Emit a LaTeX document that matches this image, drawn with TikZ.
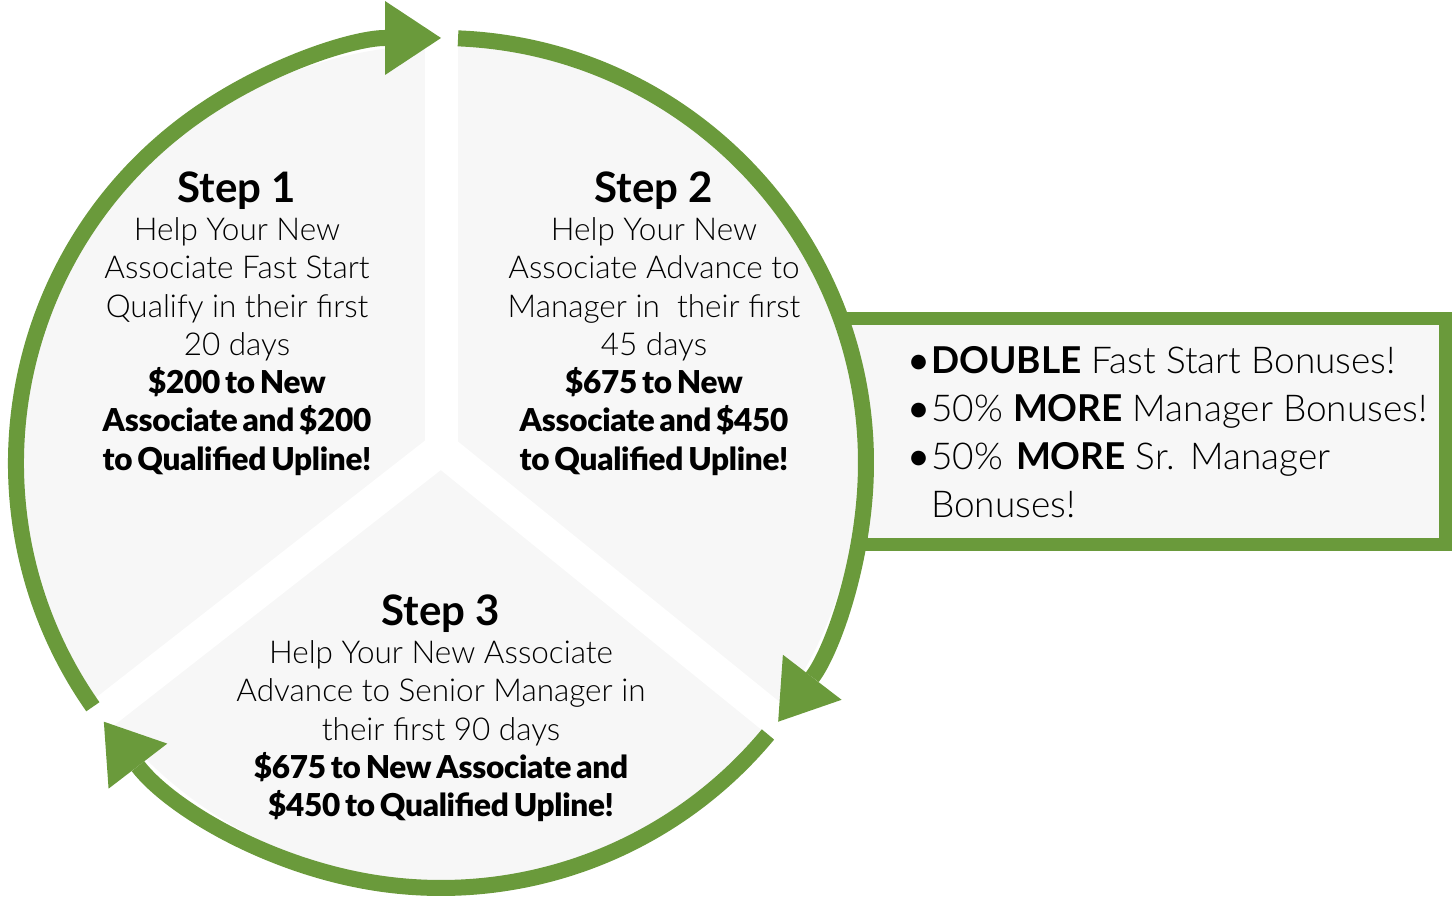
\documentclass[tikz,border=0pt]{standalone}
\usepackage{fontspec}
\IfFontExistsTF{Lato Light}{\setmainfont{Lato Light}[BoldFont={Lato Bold}]}{\setmainfont{Lato}}
\IfFontExistsTF{Lato Black}{\newfontface\heavyface{Lato Black}[LetterSpace=-1, WordSpace=0.7]}{\newfontface\heavyface{Lato}[FakeBold=2, LetterSpace=-1, WordSpace=0.7]}
\usepackage{tikz}
\usetikzlibrary{arrows.meta}
\definecolor{ringgreen}{RGB}{106,154,59}
\definecolor{sectorgray}{RGB}{247,247,247}
\tikzset{
    ring/.style={draw=ringgreen, line width=16pt, -{Triangle[length=56pt, width=74pt, line width=0pt]}},
    gap/.style={draw=white, line width=33pt},
    steptext/.style={inner sep=0pt, align=center, anchor=north, font=\fontsize{31.5}{38.3}\selectfont},
    bonusframe/.style={draw=ringgreen, line width=13pt, fill=sectorgray},
    bonustext/.style={inner sep=0pt, align=left, anchor=north west, font=\fontsize{37}{48}\selectfont}
}
\newcommand{\stephead}[1]{\rule{0pt}{40pt}{\fontsize{42}{38.3}\selectfont\bfseries #1}}
\newcommand{\payout}[1]{{\heavyface #1}}
\newcommand{\bonusitem}{\makebox[21pt][l]{\hspace*{-6pt}\raisebox{-4pt}{\scalebox{1.35}{\textbullet}}}}
\frenchspacing

\begin{document}
\begin{tikzpicture}[x=1pt, y=1pt]
    \useasboundingbox (0,0) rectangle (1453,899);
    \coordinate (c) at (441,436);
    \coordinate (g) at (441,450);

    % Bonus box (behind the circle)
    \draw[bonusframe] (700,354) rectangle (1445.5,580.5);

    % Sectors
    \fill[sectorgray] (c) circle[radius=418pt];
    \begin{scope}
        \clip (c) circle[radius=430pt];
        \draw[gap] (g) -- ++(90:500pt);
        \draw[gap] (g) -- ++(218:600pt);
        \draw[gap] (g) -- ++(-39:600pt);
    \end{scope}

    % Ring arrows
    \draw[ring] ([shift={(215:425pt)}]c) arc[start angle=215, end angle=90, radius=425pt];
    \draw[ring] ([shift={(87.7:425pt)}]c) arc[start angle=87.7, end angle=-37.5, radius=425pt];
    \draw[ring] ([shift={(-39.7:425pt)}]c) arc[start angle=-39.7, end angle=-142.5, radius=425pt];

    % Steps
    \node[steptext] (step1) at (237,737) {\stephead{Step 1}\\ Help Your New\\ Associate Fast Start\\ Qualify in their first\\ 20 days\\ \payout{\$200 to New}\\ \payout{Associate and \$200}\\ \payout{to Qualified Upline!}};
    \node[steptext] (step2) at (654,737) {\stephead{Step 2}\\ Help Your New\\ Associate Advance to\\ Manager in\ \ their first\\ 45 days\\ \payout{\$675 to New}\\ \payout{Associate and \$450}\\ \payout{to Qualified Upline!}};
    \node[steptext] (step3) at (441,314) {\stephead{Step 3}\\ Help Your New Associate\\ Advance to Senior Manager in\\ their first 90 days\\ \payout{\$675 to New Associate and}\\ \payout{\$450 to Qualified Upline!}};

    % Bonuses
    \node[bonustext] (bonus) at (910,562) {\rule{0pt}{36pt}\bonusitem\textbf{DOUBLE} Fast Start Bonuses!\\ \bonusitem 50\% \textbf{MORE} Manager Bonuses!\\ \bonusitem 50\%\hspace{3pt} \textbf{MORE} Sr.\hspace{5pt} Manager\\ \hspace*{21pt}Bonuses!};
\end{tikzpicture}
\end{document}
